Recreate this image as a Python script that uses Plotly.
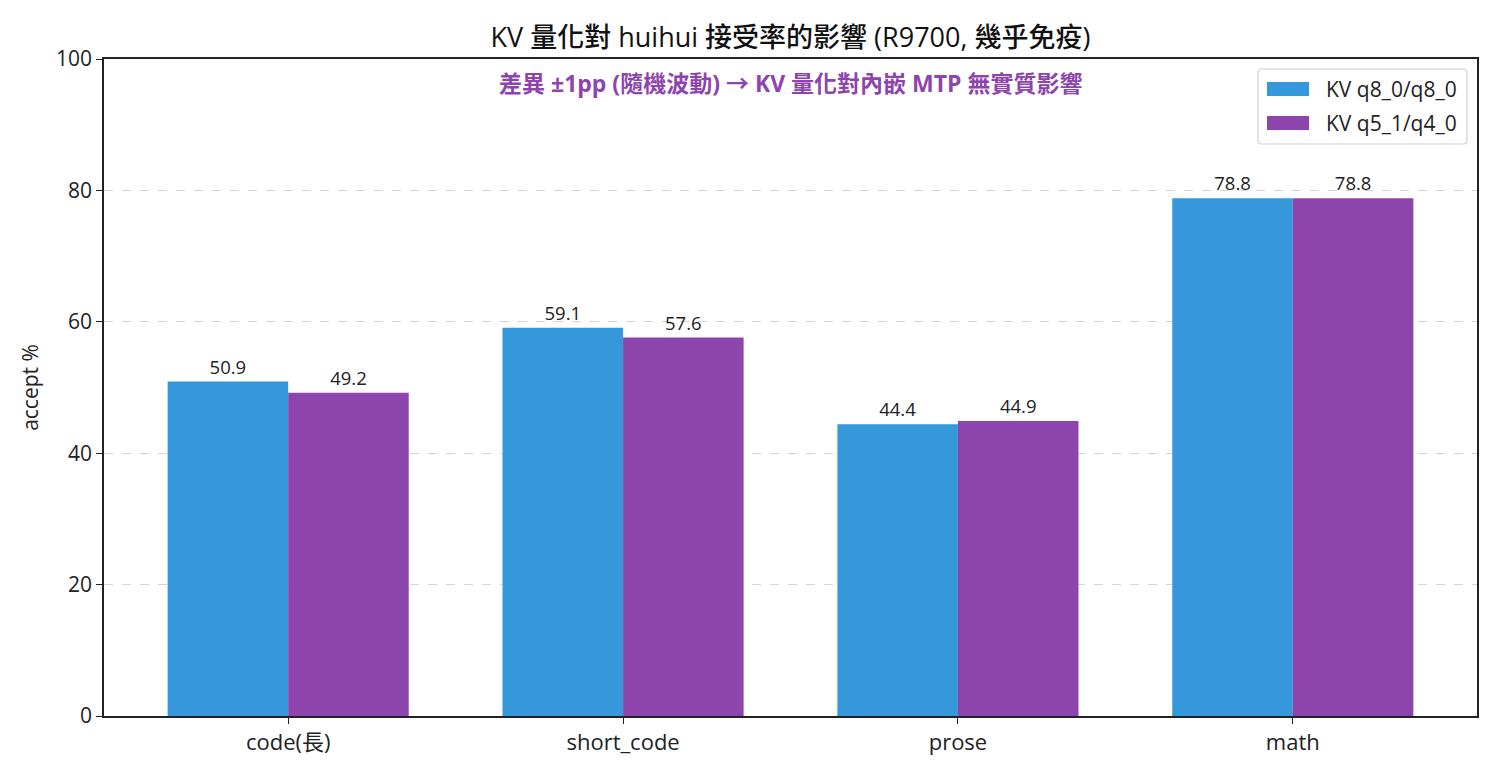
import plotly.graph_objects as go

categories = ["code(長)", "short_code", "prose", "math"]
series_names = ["KV q8_0/q8_0", "KV q5_1/q4_0"]
q8_values = [50.9, 59.1, 44.4, 78.8]
q5_values = [49.2, 57.6, 44.9, 78.8]
colors = ["#3498db", "#8e44ad"]

FONT = "Open Sans, Noto Sans CJK TC"
x = list(range(len(categories)))
w = 0.36

# plot area in screen pixels (used only for positioning legend decorations)
PX0, PX1, PY0, PY1 = 104, 1477, 59, 716
def px(v):
    return (v - PX0) / (PX1 - PX0)
def py(v):
    return (PY1 - v) / (PY1 - PY0)

fig = go.Figure()
for name, vals, col, off in [(series_names[0], q8_values, colors[0], -w),
                             (series_names[1], q5_values, colors[1], 0.0)]:
    fig.add_trace(go.Bar(
        x=x, y=vals, name=name, marker=dict(color=col, line=dict(width=0)),
        width=w, offset=off,
        text=[f"{v:.1f}" for v in vals], textposition="outside",
        textfont=dict(family=FONT, size=18.5, color="#222"),
        cliponaxis=False,
    ))

fig.update_layout(
    width=1500, height=780,
    paper_bgcolor="white", plot_bgcolor="white",
    margin=dict(l=96, r=31, t=51, b=72),
    barmode="overlay",
    font=dict(family=FONT, size=18, color="#222"),
    title=dict(text="KV 量化對 huihui 接受率的影響 (R9700, 幾乎免疫)",
               xref="paper", x=0.5, xanchor="center", y=0.9615, yanchor="middle",
               font=dict(family=FONT, size=27, color="#111", weight=500)),
    showlegend=False,
)
fig.update_xaxes(
    range=[-0.55, 3.55], tickmode="array", tickvals=x, ticktext=categories,
    showline=True, linecolor="#222", linewidth=1.5, mirror=True,
    ticks="outside", ticklen=6, tickcolor="#222", showgrid=False,
    tickfont=dict(family=FONT, size=22),
)
fig.update_yaxes(
    range=[0, 100], tickvals=[0, 20, 40, 60, 80, 100],
    showline=True, linecolor="#222", linewidth=1.5, mirror=True,
    ticks="outside", ticklen=6, tickcolor="#222",
    showgrid=True, gridcolor="#d4d4d4", griddash="dash", gridwidth=1,
    zeroline=False,
    title=dict(text="accept %", font=dict(family=FONT, size=21), standoff=12),
    tickfont=dict(family=FONT, size=21),
)
fig.add_annotation(
    text="差異 ±1pp (隨機波動) → KV 量化對內嵌 MTP 無實質影響",
    xref="paper", yref="paper", x=0.5, y=py(83), xanchor="center", yanchor="middle",
    showarrow=False, font=dict(family=FONT, size=23, color="#8e44ad", weight="bold"),
)

# custom legend (matplotlib-style)
bx0, bx1, by0, by1, r = 1258, 1467, 69, 144, 4
path = (f"M {px(bx0+r)},{py(by0)} L {px(bx1-r)},{py(by0)} Q {px(bx1)},{py(by0)} {px(bx1)},{py(by0+r)} "
        f"L {px(bx1)},{py(by1-r)} Q {px(bx1)},{py(by1)} {px(bx1-r)},{py(by1)} "
        f"L {px(bx0+r)},{py(by1)} Q {px(bx0)},{py(by1)} {px(bx0)},{py(by1-r)} "
        f"L {px(bx0)},{py(by0+r)} Q {px(bx0)},{py(by0)} {px(bx0+r)},{py(by0)} Z")
fig.add_shape(type="path", path=path, xref="paper", yref="paper",
              line=dict(color="#d0d0d0", width=1.2), fillcolor="rgba(255,255,255,0.8)")
for i, (name, col) in enumerate(zip(series_names, colors)):
    yc = 89 + 34 * i
    fig.add_shape(type="rect", xref="paper", yref="paper",
                  x0=px(1267), x1=px(1309), y0=py(yc - 7), y1=py(yc + 7),
                  fillcolor=col, line=dict(width=0))
    fig.add_annotation(text=name, xref="paper", yref="paper", x=px(1324), y=py(yc),
                       xanchor="left", yanchor="middle", showarrow=False,
                       font=dict(family=FONT, size=21, color="#222"))

fig.write_html("out.html")
